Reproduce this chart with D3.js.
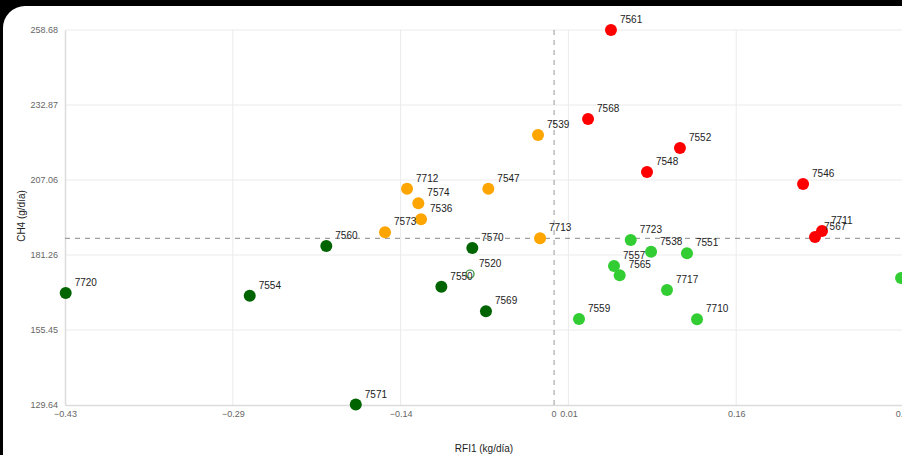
<!DOCTYPE html>
<html>
<head>
<meta charset="utf-8">
<script src="https://cdn.jsdelivr.net/npm/d3@7/dist/d3.min.js"></script>
<style>
  html, body { margin: 0; padding: 0; background: #000; overflow: hidden; }
  svg { display: block; }
  text { font-family: Arial, "Liberation Sans", sans-serif; }
</style>
</head>
<body>
<svg id="chart" width="902" height="455"></svg>
<script>
// ---- data ----
const ids   = ["7561","7568","7552","7548","7546","7711","7567",
               "7539","7712","7547","7574","7536","7573","7713",
               "7560","7570","7520","7550","7569","7720","7554","7571",
               "7723","7538","7551","7557","7565","7717","7710","7559","7719"];
const rfi   = [0.0495,0.0292,0.1106,0.0814,0.2196,0.2364,0.2302,
               -0.0151,-0.1311,-0.0591,-0.1211,-0.1187,-0.1506,-0.0133,
               -0.2026,-0.0733,-0.0753,-0.1007,-0.0612,-0.4334,-0.2704,-0.1765,
               0.0670,0.0850,0.1168,0.0522,0.0572,0.0991,0.1257,0.0212,0.3064];
const ch4   = [258.68,228.05,218.07,209.81,205.69,189.51,187.45,
               222.55,204.07,204.07,199.05,193.54,189.07,187.00,
               184.35,183.66,174.72,170.35,161.88,168.18,167.25,129.80,
               186.42,182.39,181.84,177.47,174.27,169.21,159.13,159.23,173.34];
const group = ["red","red","red","red","red","red","red",
               "orange","orange","orange","orange","orange","orange","orange",
               "dark","dark","dark","dark","dark","dark","dark","dark",
               "light","light","light","light","light","light","light","light","light"];
const groupColors = {red: "#ff0000", orange: "#ffa500", dark: "#006400", light: "#32cd32"};
const xTicks = [-0.4340, -0.2854, -0.1368, 0.0118, 0.1604, 0.3090];
const yTicks = [129.64, 155.45, 181.26, 207.06, 232.87, 258.68];
const meanRfi = 0;
const meanCh4 = 187.0;
const xTitle = "RFI1 (kg/día)";
const yTitle = "CH4 (g/día)";

// ---- layout ----
const svg = d3.select("#chart");
const W = 902, H = 455;
const plot = {left: 65, right: 904, top: 30, bottom: 405};

// photo-like frame
svg.append("rect").attr("width", W).attr("height", H).attr("fill", "#000");
svg.append("rect").attr("x", 3).attr("y", 6).attr("width", 960).attr("height", 475)
   .attr("rx", 22).attr("fill", "#fff");

const x = d3.scaleLinear().domain([xTicks[0], xTicks[xTicks.length-1]]).range([plot.left, plot.right]);
const y = d3.scaleLinear().domain([yTicks[0], yTicks[yTicks.length-1]]).range([plot.bottom, plot.top]);

// grid
const g = svg.append("g");
g.append("g").selectAll("line").data(xTicks.slice(1)).join("line")
  .attr("x1", d => x(d)).attr("x2", d => x(d))
  .attr("y1", plot.top).attr("y2", plot.bottom)
  .attr("stroke", "#ebebeb").attr("stroke-width", 1);
g.append("g").selectAll("line").data(yTicks.slice(1)).join("line")
  .attr("x1", plot.left).attr("x2", plot.right)
  .attr("y1", d => y(d)).attr("y2", d => y(d))
  .attr("stroke", "#ebebeb").attr("stroke-width", 1);

// axes
const xAxis = d3.axisBottom(x).tickValues(xTicks).tickFormat(d3.format(".2f")).tickSize(0).tickPadding(6);
const yAxis = d3.axisLeft(y).tickValues(yTicks).tickFormat(d3.format(".2f")).tickSize(0).tickPadding(7);
const gx = svg.append("g").attr("transform", `translate(0,${plot.bottom})`).call(xAxis);
const gy = svg.append("g").attr("transform", `translate(${plot.left},0)`).call(yAxis);
[gx, gy].forEach(a => {
  a.select(".domain").attr("stroke", "#dcdcdc").attr("stroke-width", 1.5);
  a.selectAll("text").attr("fill", "#666").attr("font-size", "9px")
   .attr("font-family", "Arial, 'Liberation Sans', sans-serif");
});
// mean tick label
svg.append("text").attr("x", x(meanRfi) - 1).attr("y", plot.bottom + 6).attr("dy", "0.71em")
  .attr("text-anchor", "middle").attr("font-size", "9px").attr("fill", "#666").text(d3.format("d")(meanRfi));

// mean lines
svg.append("line").attr("x1", x(meanRfi) - 1).attr("x2", x(meanRfi) - 1)
  .attr("y1", plot.top).attr("y2", plot.bottom)
  .attr("stroke", "#999").attr("stroke-dasharray", "5,5").attr("stroke-width", 1);
svg.append("line").attr("x1", plot.left).attr("x2", plot.right)
  .attr("y1", y(meanCh4)).attr("y2", y(meanCh4))
  .attr("stroke", "#888").attr("stroke-dasharray", "5,5").attr("stroke-width", 1);

// points
const data = ids.map((id, i) => ({id, x: rfi[i], y: ch4[i], g: group[i]}));
const pts = svg.append("g");
pts.selectAll("circle").data(data).join("circle")
  .attr("cx", d => x(d.x)).attr("cy", d => y(d.y))
  .attr("r", d => d.id === "7520" ? 4 : 6)
  .attr("fill", d => d.id === "7520" ? "#fff" : groupColors[d.g])
  .attr("stroke", d => d.id === "7520" ? "#2e8b2e" : "none")
  .attr("stroke-width", 1.2);

pts.selectAll("text").data(data).join("text")
  .attr("x", d => x(d.x) + 9).attr("y", d => y(d.y) - 7)
  .attr("font-size", "10px").attr("fill", "#222")
  .text(d => d.id);

// titles
svg.append("text").attr("x", 484).attr("y", 452).attr("text-anchor", "middle")
  .attr("font-size", "10px").attr("fill", "#222").text(xTitle);
svg.append("text").attr("transform", "translate(25,216) rotate(-90)").attr("text-anchor", "middle")
  .attr("font-size", "10px").attr("fill", "#222").text(yTitle);
</script>
</body>
</html>
